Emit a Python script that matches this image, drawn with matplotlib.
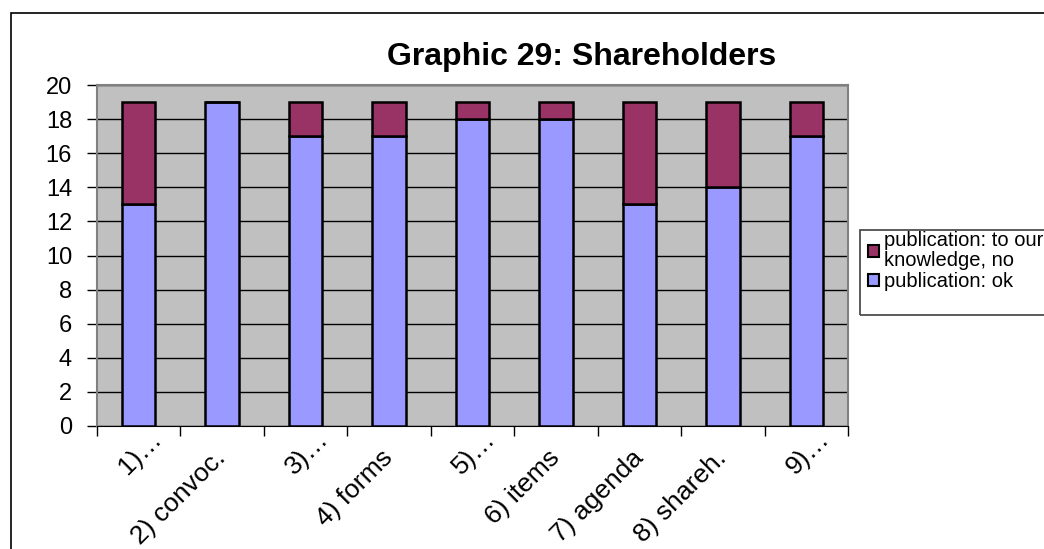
import matplotlib.pyplot as plt
import matplotlib.transforms as mtransforms
import numpy as np
from matplotlib.patches import Rectangle, Patch

plt.rcParams['font.family'] = ['Liberation Sans', 'DejaVu Sans']

####### DATA #######

categories = ['1)…', '2) convoc.', '3)…', '4) forms', '5)…', '6) items', '7) agenda', '8) shareh.', '9)…']
pub_ok = [13, 19, 17, 17, 18, 18, 13, 14, 17]
pub_no = [6, 0, 2, 2, 1, 1, 6, 5, 2]
y_ticks = list(range(0, 21, 2))

####### PLOT #######

W, H = 1044, 549
fig = plt.figure(figsize=(W/100, H/100), dpi=100)
ax = fig.add_axes([97/W, 1-426/H, (848-97)/W, (426-85)/H])

x = np.arange(len(categories))
ax.bar(x, pub_ok, width=0.4, color='#9999FF', edgecolor='black', linewidth=1.8, zorder=3)
ax.bar(x, pub_no, bottom=pub_ok, width=0.4, color='#993366', edgecolor='black', linewidth=1.8, zorder=3)

ax.set_facecolor('#C0C0C0')
ax.set_xlim(-0.5, len(categories) - 0.5)
ax.set_ylim(0, 20)
ax.set_yticks(y_ticks)
ax.yaxis.grid(True, color='black', linewidth=1, zorder=1)

ax.set_xticks(x)
ax.set_xticklabels(categories, rotation=45, ha='right', va='baseline', rotation_mode='anchor', fontsize=19)
ax.set_xticks(np.arange(len(categories) + 1) - 0.5, minor=True)
ax.tick_params(axis='x', which='major', length=0, pad=0)
ax.tick_params(axis='x', which='minor', length=7, width=1, direction='out')
ax.tick_params(axis='y', length=7, width=1, direction='out', labelsize=17, pad=11)

# place the rotated labels like the original: text end just right of the category,
# truncated labels sit higher up and further right
for lab in ax.get_xticklabels():
    if lab.get_text().endswith('…'):
        dx, dy = 24, -14
    else:
        dx, dy = 5, -33
    lab.set_transform(lab.get_transform() + mtransforms.ScaledTranslation(dx/100, dy/100, fig.dpi_scale_trans))

for side in ['top', 'right', 'left']:
    ax.spines[side].set_color('#808080')
    ax.spines[side].set_linewidth(1.5)
ax.spines['bottom'].set_color('black')

fig.text(582/W, 1-57/H, 'Graphic 29: Shareholders', fontsize=23, fontweight='bold',
         ha='center', va='center')

# legend (frame drawn by hand, it is taller than the entries)
handles = [Patch(facecolor='#993366', edgecolor='black', linewidth=1.5),
           Patch(facecolor='#9999FF', edgecolor='black', linewidth=1.5)]
labels = ['publication: to our\nknowledge, no', 'publication: ok']
leg = fig.legend(handles, labels, loc='upper left', bbox_to_anchor=(868/W, 1-231/H),
                 fontsize=14.5, frameon=False,
                 handlelength=0.55, handleheight=0.55, handletextpad=0.25, labelspacing=0.1,
                 borderpad=0.0, borderaxespad=0)
for t in leg.get_texts():
    t.set_linespacing(1.05)
fig.patches.append(Rectangle((860/W, 1-315/H), 200/W, 85/H, transform=fig.transFigure,
                             fill=False, edgecolor='#404040', linewidth=1.2))

# outer chart border
fig.patches.append(Rectangle((11/W, -0.1), 1.2, 1.1 - 13/H, transform=fig.transFigure,
                             fill=False, edgecolor='black', linewidth=1.2))

fig.savefig('out.png', dpi=100)
